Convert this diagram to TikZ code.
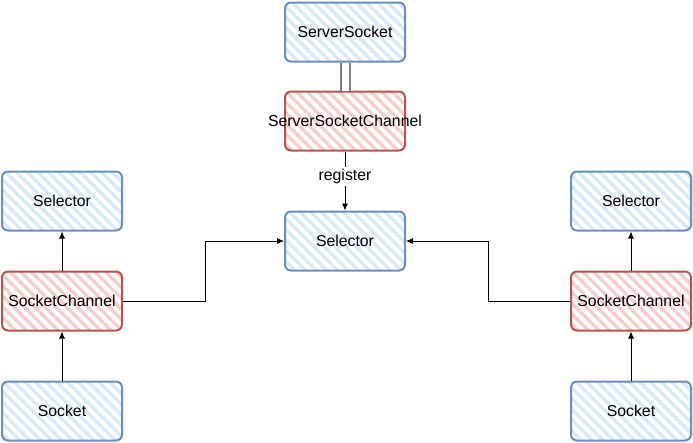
\documentclass[tikz,border=0pt]{standalone}
\usepackage{fontspec}
\setmainfont{Liberation Sans}
\usetikzlibrary{patterns.meta,arrows.meta}
\definecolor{bfill}{HTML}{DAE8FC}
\definecolor{bstroke}{HTML}{6C8EBF}
\definecolor{rfill}{HTML}{F8CECC}
\definecolor{rstroke}{HTML}{B85450}
\begin{document}
\begin{tikzpicture}[x=1pt,y=-1pt,
  basebox/.style={line width=2pt, rounded corners=6pt, minimum width=120pt,
    minimum height=59pt, inner sep=0pt, font=\fontsize{15.8}{18}\selectfont},
  bluebox/.style={basebox, draw=bstroke,
    pattern={Lines[angle=-45,distance=7.5pt,line width=3.3pt]}, pattern color=bfill},
  redbox/.style={basebox, draw=rstroke,
    pattern={Lines[angle=-45,distance=7.5pt,line width=3.3pt]}, pattern color=rfill},
  conn/.style={draw=black, line width=0.9pt, -{Latex[length=7pt,width=6pt]}},
  lbl/.style={fill=white, inner sep=2pt, font=\fontsize{15.8}{18}\selectfont}]
\useasboundingbox (0,0) rectangle (693,442);
\node[bluebox] (ss) at (345,32) {ServerSocket};
\node[redbox] (ssc) at (345,121) {\makebox[0pt]{ServerSocketChannel}};
\node[bluebox] (sel) at (345,241) {Selector};
\node[bluebox] (lsel) at (62,201) {Selector};
\node[redbox] (lsc) at (62,301) {SocketChannel};
\node[bluebox] (ls) at (62,411) {Socket};
\node[bluebox] (rsel) at (631,201) {Selector};
\node[redbox] (rsc) at (631,301) {SocketChannel};
\node[bluebox] (rs) at (631,411) {Socket};
\draw[draw=gray, line width=2pt, double=white, double distance=7pt] (ss.south) -- (ssc.north);
\draw[conn] (ssc.south) -- node[lbl, pos=0.42] (reg) {register} (sel.north);
\draw[conn] (ls.north) -- (lsc.south);
\draw[conn] (lsc.north) -- (lsel.south);
\draw[conn] (rs.north) -- (rsc.south);
\draw[conn] (rsc.north) -- (rsel.south);
\draw[conn] (lsc.east) -- ++(82,0) |- (sel.west);
\draw[conn] (rsc.west) -- ++(-82,0) |- (sel.east);
\end{tikzpicture}
\end{document}
